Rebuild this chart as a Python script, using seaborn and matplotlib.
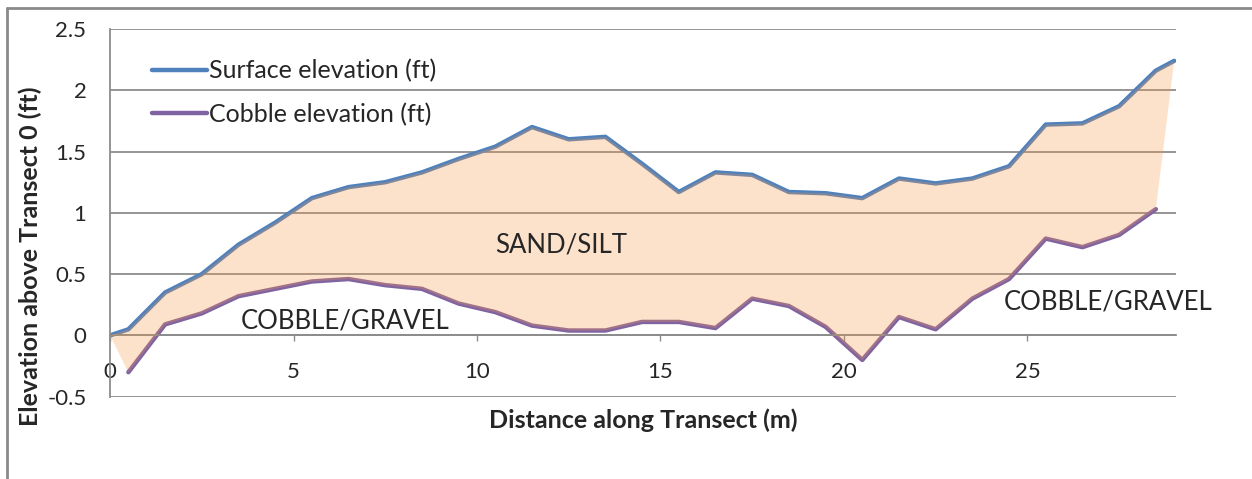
import numpy as np
import pandas as pd
import seaborn as sns
import matplotlib.pyplot as plt
from matplotlib.lines import Line2D

# surface elevation readings (distance in m, elevation in ft)
surface_x = [0, 0.5, 1.5, 2.5, 3.5, 4.5, 5.5, 6.5, 7.5, 8.5, 9.5, 10.5, 11.5, 12.5, 13.5,
             14.5, 15.5, 16.5, 17.5, 18.5, 19.5, 20.5, 21.5, 22.5, 23.5, 24.5, 25.5, 26.5,
             27.5, 28.5, 29]
surface_y = [0.0, 0.05, 0.35, 0.5, 0.74, 0.92, 1.12, 1.21, 1.25, 1.33, 1.44, 1.54, 1.70, 1.60,
             1.62, 1.40, 1.17, 1.33, 1.31, 1.17, 1.16, 1.12, 1.28, 1.24, 1.28, 1.38, 1.72, 1.73,
             1.87, 2.16, 2.24]

# cobble elevation readings
cobble_x = [0.5, 1.5, 2.5, 3.5, 4.5, 5.5, 6.5, 7.5, 8.5, 9.5, 10.5, 11.5, 12.5, 13.5,
            14.5, 15.5, 16.5, 17.5, 18.5, 19.5, 20.5, 21.5, 22.5, 23.5, 24.5, 25.5, 26.5,
            27.5, 28.5]
cobble_y = [-0.30, 0.09, 0.18, 0.32, 0.38, 0.44, 0.46, 0.41, 0.38, 0.26, 0.19, 0.08, 0.04, 0.04,
            0.11, 0.11, 0.06, 0.30, 0.24, 0.07, -0.20, 0.15, 0.05, 0.30, 0.46, 0.79, 0.72,
            0.82, 1.03]

y_ticks = [-0.5, 0, 0.5, 1, 1.5, 2, 2.5]
y_labels = ["-0.5", "0", "0.5", "1", "1.5", "2", "2.5"]
x_ticks = [0, 5, 10, 15, 20, 25]

surface = pd.DataFrame({"dist": surface_x, "elev": surface_y})
cobble = pd.DataFrame({"dist": cobble_x, "elev": cobble_y})

sns.set_style("white")
plt.rcParams["font.family"] = ["Lato", "DejaVu Sans"]

fig = plt.figure(figsize=(12.52, 4.79), dpi=100)
ax = fig.add_axes([0.0879, 0.1718, 0.8514, 0.7677])

grid_col = "#8c8c8c"
for yv in y_ticks:
    ax.axhline(yv, color=grid_col, lw=1.3, zorder=1)

sns.lineplot(data=surface, x="dist", y="elev", ax=ax, color="#4F81BD", lw=3.2,
             label="Surface elevation (ft)", zorder=2)
sns.lineplot(data=cobble, x="dist", y="elev", ax=ax, color="#8064A2", lw=3.2,
             label="Cobble elevation (ft)", zorder=2)

# shaded sand/silt layer between the two profiles
poly_x = np.r_[surface["dist"].values, cobble["dist"].values[::-1]]
poly_y = np.r_[surface["elev"].values, cobble["elev"].values[::-1]]
ax.fill(poly_x, poly_y, facecolor="#F79646", alpha=0.28, edgecolor="none", zorder=3)

ax.text(12.3, 0.74, "SAND/SILT", fontsize=18.5, ha="center", va="center", zorder=4)
ax.text(6.4, 0.12, "COBBLE/GRAVEL", fontsize=18.5, ha="center", va="center", zorder=4)
ax.text(27.2, 0.27, "COBBLE/GRAVEL", fontsize=18.5, ha="center", va="center", zorder=4,
        clip_on=False)

ax.set_xlim(0, 29.05)
ax.set_ylim(-0.5, 2.5)
ax.set_yticks(y_ticks)
ax.set_yticklabels(y_labels)
ax.set_xticks(x_ticks)

for s in ["top", "right"]:
    ax.spines[s].set_visible(False)
ax.spines["bottom"].set_position(("data", 0))
ax.spines["bottom"].set_color(grid_col)
ax.spines["bottom"].set_linewidth(1.3)
ax.spines["left"].set_color(grid_col)
ax.spines["left"].set_linewidth(1.3)

ax.tick_params(axis="x", direction="out", length=4, width=1, color=grid_col,
               pad=15, labelsize=16, bottom=True)
ax.tick_params(axis="y", length=0, pad=17, labelsize=16)

ax.set_xlabel("Distance along Transect (m)", fontsize=18, fontweight="bold")
ax.set_ylabel("Elevation above Transect 0 (ft)", fontsize=18, fontweight="bold")
ax.xaxis.set_label_coords(0.5, -0.032)
ax.yaxis.set_label_coords(-0.064, 0.383)

leg = ax.legend(loc="upper left", bbox_to_anchor=(0.039, 0.918), frameon=False,
                fontsize=18, handlelength=2.2, handletextpad=0.1, labelspacing=0.82,
                borderaxespad=0, borderpad=0)

# outer chart border (left and top edges)
fig.add_artist(Line2D([7 / 1252, 7 / 1252], [0, 1 - 8 / 479], color="#8a8a8a", lw=2))
fig.add_artist(Line2D([7 / 1252, 1], [1 - 8 / 479, 1 - 8 / 479], color="#8a8a8a", lw=2))

fig.savefig("out.png", dpi=100)
